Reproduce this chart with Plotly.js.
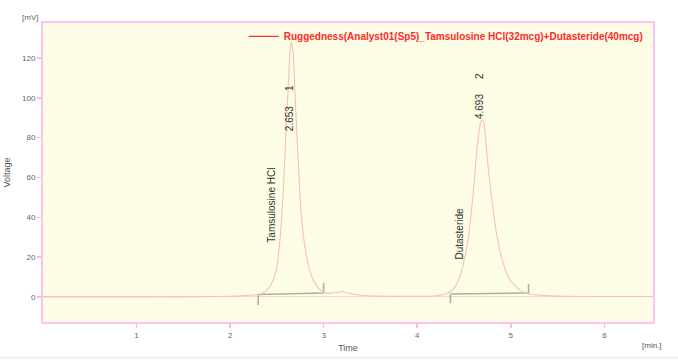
<!DOCTYPE html>
<html>
<head>
<meta charset="utf-8">
<script src="https://cdn.plot.ly/plotly-3.0.1.min.js"></script>
<style>html,body{margin:0;padding:0;background:#fff;}#chart{width:678px;height:360px;}</style>
</head>
<body>
<div id="chart"></div>
<script>
// Chromatogram signal (time in min, voltage in mV)
const timeMin = [0, 0.5, 1.0, 1.5, 2.0, 2.2, 2.3, 2.35, 2.4, 2.45, 2.5, 2.54, 2.57, 2.6, 2.62, 2.64, 2.653, 2.665, 2.68, 2.70, 2.73, 2.76, 2.80, 2.85, 2.90, 2.95, 3.0, 3.05, 3.1, 3.2, 3.3, 3.5, 4.0, 4.2, 4.3, 4.38, 4.45, 4.50, 4.55, 4.60, 4.63, 4.66, 4.68, 4.693, 4.71, 4.73, 4.76, 4.80, 4.85, 4.90, 4.95, 5.0, 5.1, 5.2, 5.4, 6.0, 6.52];
const voltage = [0, 0, 0, 0, 0.3, 0.8, 1.2, 2, 3.8, 7.5, 15, 33, 55, 85, 105, 123, 128, 126, 118, 95, 66, 42, 25, 13.5, 7.5, 4.2, 2.5, 1.8, 2, 2.6, 1.5, 0.6, 0.3, 0.6, 1.5, 3.6, 9.5, 18, 31, 53, 70, 83, 88, 89, 88, 80, 64, 48, 31, 20, 12.5, 8, 3.3, 1.5, 0.6, 0.2, 0.2];

// Integration baselines (start/end time and levels)
const baseStart = [2.30, 4.355];
const baseEnd = [3.00, 5.19];
const baseStartLevel = [1.2, 1.5];
const baseEndLevel = [2.0, 2.0];
const tickLow = [-4, -3];
const tickHigh = [7, 6.5];

// Peak labels
const peakTimes = [2.653, 4.693];
const peakNumbers = ['1', '2'];
const peakLabelY = [95, 101];
const compoundNames = ['Tamsulosine HCl', 'Dutasteride'];
const compoundX = [2.44, 4.45];
const compoundY = [46, 32];

const xTicks = [1, 2, 3, 4, 5, 6];
const yTicks = [0, 20, 40, 60, 80, 100, 120];

const seriesName = 'Ruggedness(Analyst01(Sp5)_Tamsulosine HCl(32mcg)+Dutasteride(40mcg)';

// build baseline segments
const bx = [], by = [];
for (let i = 0; i < baseStart.length; i++) {
  bx.push(baseStart[i], baseStart[i], null, baseStart[i], baseEnd[i], null, baseEnd[i], baseEnd[i], null);
  by.push(tickLow[i], baseStartLevel[i], null, baseStartLevel[i], baseEndLevel[i], null, baseEndLevel[i], tickHigh[i], null);
}

const traces = [
  {x: bx, y: by, mode: 'lines', line: {color: '#a9b3a2', width: 1.6}, showlegend: false, hoverinfo: 'skip'},
  {x: timeMin, y: voltage, mode: 'lines', line: {color: '#f4c2b4', width: 1.1, shape: 'spline', smoothing: 0.6}, showlegend: false},
  {x: [null], y: [null], mode: 'lines', name: seriesName, line: {color: '#ff3030', width: 1.2}, showlegend: true}
];

const lblFont = {family: 'Liberation Sans, Arial', size: 10, color: '#333'};
const annotations = [];
for (let i = 0; i < peakTimes.length; i++) {
  annotations.push({x: peakTimes[i] - 0.02, y: peakLabelY[i], xref: 'x', yref: 'y', text: peakTimes[i].toFixed(3) + '\u2003\u2002' + peakNumbers[i], textangle: -90, showarrow: false, font: lblFont});
  annotations.push({x: compoundX[i], y: compoundY[i], xref: 'x', yref: 'y', text: compoundNames[i], textangle: -90, showarrow: false, font: lblFont});
}
annotations.push({x: -0.022, y: 1.02, xref: 'paper', yref: 'paper', xanchor: 'center', yanchor: 'middle', text: '[mV]', showarrow: false, font: {family: 'Liberation Sans, Arial', size: 8, color: '#666'}});
annotations.push({x: 0.999, y: -0.077, xref: 'paper', yref: 'paper', xanchor: 'center', yanchor: 'middle', text: '[min.]', showarrow: false, font: {family: 'Liberation Sans, Arial', size: 8, color: '#555'}});

const layout = {
  width: 678, height: 360,
  margin: {l: 43, r: 25, t: 23, b: 38},
  paper_bgcolor: '#ffffff',
  plot_bgcolor: '#fdfde6',
  font: {family: 'Liberation Sans, Arial', size: 8, color: '#666'},
  xaxis: {
    range: [0, 6.52], tickvals: xTicks, ticks: 'outside', ticklen: 4, tickcolor: '#ffb3f2', tickwidth: 1.5,
    showgrid: false, zeroline: false, showline: true, mirror: true, linecolor: '#ffc2f4', linewidth: 2,
    tickfont: {size: 8, color: '#666'},
    title: {text: 'Time', font: {size: 9, color: '#555'}, standoff: 6}
  },
  yaxis: {
    range: [-12.6, 137.6], tickvals: yTicks, ticks: 'outside', ticklen: 4, tickcolor: '#ffb3f2', tickwidth: 1.5,
    showgrid: false, zeroline: true, zerolinecolor: '#f6d6c8', zerolinewidth: 1, showline: true, mirror: true, linecolor: '#ffc2f4', linewidth: 2,
    tickfont: {size: 8, color: '#666'},
    title: {text: 'Voltage', font: {size: 9, color: '#555'}, standoff: 10}
  },
  showlegend: true,
  legend: {x: 0.993, y: 0.955, xanchor: 'right', yanchor: 'middle', bgcolor: 'rgba(0,0,0,0)', itemwidth: 30,
    font: {family: 'Liberation Sans, Arial', size: 10, color: '#ff2a2a', weight: 'bold'}},
  annotations: annotations,
  shapes: [{type: 'line', xref: 'paper', yref: 'paper', x0: -0.071, x1: 1.041, y0: -0.12, y1: -0.12, line: {color: '#e3e3e3', width: 1}}]
};

Plotly.newPlot('chart', traces, layout, {displayModeBar: false, staticPlot: true});
</script>
</body>
</html>
